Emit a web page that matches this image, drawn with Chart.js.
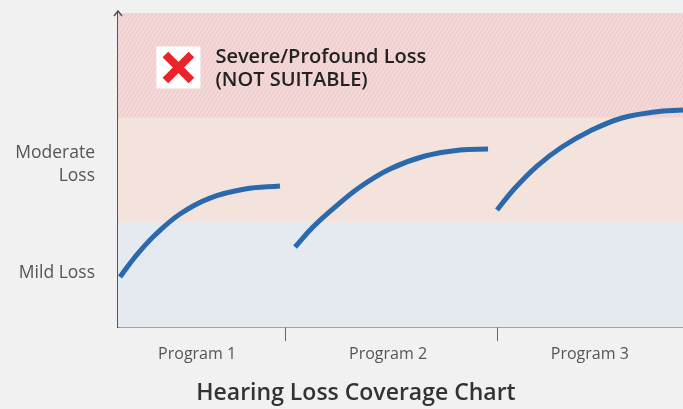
<html>
<head>
    <script src="https://cdn.jsdelivr.net/npm/chart.js"></script>
    <style>
        body { margin: 0; background: #f1f1f1; }
        #wrap { width: 683px; height: 409px; }
    </style>
</head>
<body>
    <div id="wrap"><canvas id="myChart"></canvas></div>
    <script>
        // categories / ticks (x in 0-100 units along the axis, y in band units)
        const programs = ['Program 1', 'Program 2', 'Program 3'];
        const programCenters = [14, 47.8, 83.5];
        const programDividers = [29.6, 67.1];
        const lossLevels = ['Mild Loss', ['Moderate', 'Loss']];
        const lossLevelPositions = [0.52, 1.55];
        const bandEdges = [0, 1, 2, 3];
        const bandNames = ['Mild', 'Moderate', 'Severe/Profound'];
        const chartTitle = 'Hearing Loss Coverage Chart';
        const severeNote = ['Severe/Profound Loss', '(NOT SUITABLE)'];

        // coverage curves
        const program1X = [0.35, 3.01, 6.55, 10.97, 16.28, 22.48, 28.67];
        const program1Y = [0.478, 0.669, 0.879, 1.080, 1.232, 1.318, 1.347];
        const program2X = [31.33, 34.51, 38.41, 42.83, 48.14, 54.34, 60.53, 65.49];
        const program2Y = [0.764, 0.955, 1.146, 1.338, 1.510, 1.634, 1.691, 1.701];
        const program3X = [67.08, 70.27, 74.16, 78.58, 83.54, 89.2, 95.04, 100];
        const program3Y = [1.118, 1.328, 1.538, 1.720, 1.873, 1.997, 2.054, 2.073];

        const toPoints = (xs, ys) => xs.map((x, i) => ({x: x, y: ys[i]}));

        const lineStyle = {
            borderColor: '#2a69ab',
            borderWidth: 5,
            pointRadius: 0,
            fill: false,
            tension: 0.4,
            borderCapStyle: 'butt'
        };

        // hatch pattern for the severe band
        function makeHatch() {
            const c = document.createElement('canvas');
            c.width = 40; c.height = 40;
            const g = c.getContext('2d');
            g.fillStyle = '#f3d8d7';
            g.fillRect(0, 0, 40, 40);
            g.strokeStyle = 'rgba(215,150,150,0.3)';
            g.lineWidth = 0.8;
            for (let i = -80; i < 80; i += 4) {
                g.beginPath();
                g.moveTo(i, 40);
                g.lineTo(i + 25, 0);
                g.stroke();
            }
            return g.createPattern(c, 'repeat');
        }

        const bandsPlugin = {
            id: 'bands',
            beforeDatasetsDraw(chart) {
                const {ctx, chartArea, scales: {y}} = chart;
                const fills = ['#e5e9f0', '#f4e3dc', makeHatch()];
                ctx.save();
                for (let i = 0; i < bandNames.length; i++) {
                    const top = y.getPixelForValue(bandEdges[i + 1]);
                    const bot = y.getPixelForValue(bandEdges[i]);
                    ctx.fillStyle = fills[i];
                    ctx.fillRect(chartArea.left, top, chartArea.right - chartArea.left, bot - top);
                }
                ctx.restore();
            },
            afterDraw(chart) {
                const {ctx, chartArea, scales: {x, y}} = chart;
                ctx.save();
                // arrow on the y axis
                ctx.strokeStyle = '#555';
                ctx.lineWidth = 1.5;
                ctx.beginPath();
                ctx.moveTo(chartArea.left - 4, chartArea.top + 3);
                ctx.lineTo(chartArea.left, chartArea.top - 2);
                ctx.lineTo(chartArea.left + 4, chartArea.top + 3);
                ctx.stroke();

                // not suitable note
                const bx = x.getPixelForValue(6.8);
                const by = y.getPixelForValue(2.68);
                ctx.fillStyle = '#ffffff';
                ctx.fillRect(bx, by, 44, 42);
                ctx.strokeStyle = '#e8232a';
                ctx.lineWidth = 8;
                ctx.beginPath();
                ctx.moveTo(bx + 9, by + 8); ctx.lineTo(bx + 35, by + 34);
                ctx.moveTo(bx + 35, by + 8); ctx.lineTo(bx + 9, by + 34);
                ctx.stroke();
                ctx.fillStyle = '#222';
                ctx.font = '600 20px "Open Sans"';
                ctx.textBaseline = 'middle';
                ctx.fillText(severeNote[0], bx + 59, by + 11);
                ctx.fillText(severeNote[1], bx + 59, by + 34);

                // title
                ctx.font = '600 23px "Open Sans"';
                ctx.fillStyle = '#333';
                ctx.textAlign = 'center';
                ctx.fillText(chartTitle, 356, 393);
                ctx.restore();
            }
        };

        const ctx = document.getElementById('myChart');
        new Chart(ctx, {
            type: 'line',
            data: {
                datasets: [
                    {label: programs[0], data: toPoints(program1X, program1Y), ...lineStyle},
                    {label: programs[1], data: toPoints(program2X, program2Y), ...lineStyle},
                    {label: programs[2], data: toPoints(program3X, program3Y), ...lineStyle}
                ]
            },
            options: {
                responsive: true,
                maintainAspectRatio: false,
                animation: false,
                layout: {padding: {top: 13, right: 0, left: 0, bottom: 32}},
                plugins: {legend: {display: false}, tooltip: {enabled: false}},
                scales: {
                    x: {
                        type: 'linear',
                        min: 0,
                        max: 100,
                        afterFit: (s) => { s.height = 50; s.paddingLeft = 0; s.paddingRight = 0; },
                        afterBuildTicks: (s) => {
                            s.ticks = [...programCenters, ...programDividers]
                                .sort((a, b) => a - b).map(v => ({value: v}));
                        },
                        border: {display: true, color: '#555', width: 1.5},
                        grid: {
                            drawOnChartArea: false,
                            tickLength: 14,
                            tickWidth: 1,
                            tickColor: (c) => programDividers.includes(c.tick && c.tick.value) ? '#666' : 'rgba(0,0,0,0)'
                        },
                        ticks: {
                            autoSkip: false,
                            maxRotation: 0,
                            padding: 4,
                            color: '#555',
                            font: {family: 'Open Sans', size: 16},
                            callback: (v) => {
                                const i = programCenters.indexOf(v);
                                return i >= 0 ? programs[i] : '';
                            }
                        }
                    },
                    y: {
                        type: 'linear',
                        min: 0,
                        max: 3,
                        afterFit: (s) => { s.width = 118; s.paddingTop = 0; s.paddingBottom = 0; },
                        afterBuildTicks: (s) => {
                            s.ticks = lossLevelPositions.map(v => ({value: v}));
                        },
                        border: {display: true, color: '#555', width: 1.5},
                        grid: {display: false, drawTicks: false},
                        ticks: {
                            padding: 23,
                            color: '#555',
                            font: {family: 'Open Sans', size: 17.5, lineHeight: 1.3},
                            callback: (v) => lossLevels[lossLevelPositions.indexOf(v)]
                        }
                    }
                }
            },
            plugins: [bandsPlugin]
        });
    </script>
</body>
</html>
